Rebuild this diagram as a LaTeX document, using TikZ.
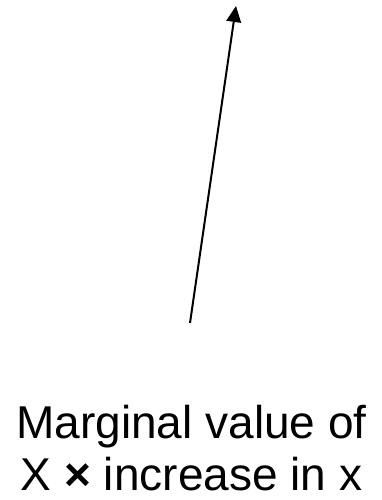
\documentclass[tikz,border=0pt]{standalone}
\usepackage{fontspec}
\setmainfont{Liberation Sans}
\usetikzlibrary{arrows.meta}

\begin{document}
\begin{tikzpicture}[x=0.75pt, y=-0.75pt,
  label/.style={align=center, font=\fontsize{34.5pt}{39pt}\selectfont, inner sep=0pt},
  arrow/.style={line width=1.5pt, -{Triangle[length=12pt, width=11pt]}}]

\useasboundingbox (0,0) rectangle (382,500);

\coordinate (tail) at (190, 323);
\coordinate (head) at (236, 6);

\node[label, anchor=base] (caption) at (191.5, 490) {Marginal value of \\ X \textbf{×} increase in x};

\draw[arrow] (tail) -- (head);

\end{tikzpicture}
\end{document}
